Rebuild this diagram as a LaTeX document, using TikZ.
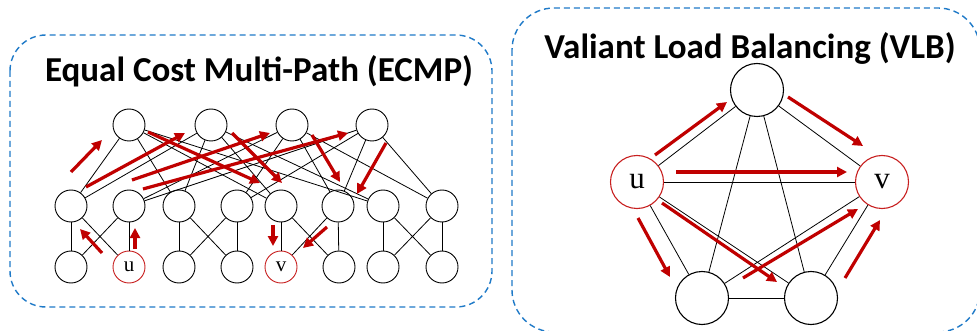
\documentclass[tikz,border=0pt]{standalone}
\usepackage{fontspec}
\newfontfamily\titlefont{Carlito}
\newfontfamily\lblfont{Liberation Serif}
\usetikzlibrary{arrows.meta}
\definecolor{darkred}{HTML}{C00000}
\definecolor{nodered}{HTML}{C82020}
\definecolor{boxblue}{HTML}{1F7AC8}
\begin{document}
\begin{tikzpicture}[x=1pt,y=-1pt,
  sw/.style={circle,draw=black,line width=0.9pt,minimum size=32pt,inner sep=0pt,fill=white},
  swbig/.style={circle,draw=black,line width=1.1pt,minimum size=53pt,inner sep=0pt,fill=white},
  hostred/.style={draw=nodered},
  link/.style={line width=0.8pt,black},
  redarr/.style={line width=3.2pt,darkred,-{Triangle[length=10pt,width=10pt]}},
  dbox/.style={draw=boxblue,line width=1.4pt,dash pattern=on 6pt off 4pt,rounded corners=36pt},
  ttl/.style={font=\titlefont\bfseries\fontsize{35}{40}\selectfont,anchor=base}
]
\useasboundingbox (0,0) rectangle (977,331);
\clip (0,0) rectangle (977,331);
\fill[white] (0,0) rectangle (977,331);

% boxes
\draw[dbox] (10,35) rectangle (492,307);
\draw[dbox,rounded corners=42pt] (512,8) rectangle (980,332);

% titles
\node[ttl] (t1) at (259,82) {Equal Cost Multi-Path (ECMP)};
\node[ttl] (t2) at (750,59) {Valiant Load Balancing (VLB)};

% ECMP nodes
\foreach \i/\x in {1/71,2/129,3/179,4/237,5/281,6/338,7/383,8/442}{
  \node[sw] (a\i) at (\x,206) {};
}
\foreach \i/\x in {1/71,3/179,4/237,6/339,7/383,8/442}{
  \node[sw] (e\i) at (\x,267) {};
}
\node[sw,hostred,font=\lblfont\fontsize{21}{22}\selectfont] (e2) at (129,267) {u};
\node[sw,hostred,font=\lblfont\fontsize{21}{22}\selectfont] (e5) at (281,267) {v};
\foreach \i/\x in {1/129,2/211,3/292,4/372}{
  \node[sw] (c\i) at (\x,125) {};
}

% ECMP links
\foreach \p/\q in {1/2,3/4,5/6,7/8}{
  \draw[link] (e\p) -- (a\p);
  \draw[link] (e\q) -- (a\q);
  \draw[link] (e\p) -- (a\q);
  \draw[link] (e\q) -- (a\p);
}
\foreach \p/\q in {1/2,3/4,5/6,7/8}{
  \draw[link] (a\p) -- (c1);
  \draw[link] (a\p) -- (c2);
  \draw[link] (a\q) -- (c3);
  \draw[link] (a\q) -- (c4);
}

% ECMP red arrows
\draw[redarr] (71,172) -- (102,140);
\draw[redarr] (86,187) -- (185,133);
\draw[redarr] (132,180) -- (270,133);
\draw[redarr] (143,189) -- (348,133);
\draw[redarr] (148,132) -- (260,183);
\draw[redarr] (232,133) -- (282,183);
\draw[redarr] (312,135) -- (340,182);
\draw[redarr] (386,143) -- (357,194);
\draw[redarr] (273,225) -- (273,246);
\draw[redarr] (327,227) -- (303,248);
\draw[redarr] (102,253) -- (80,229);
\draw[redarr] (135,249) -- (135,228);

% VLB nodes
\node[swbig] (vt) at (757,90) {};
\node[swbig,draw=nodered,font=\lblfont\fontsize{31}{32}\selectfont] (vu) at (637,182) {u};
\node[swbig,draw=nodered,font=\lblfont\fontsize{31}{32}\selectfont] (vv) at (882,182) {v};
\node[swbig] (vl) at (702,298) {};
\node[swbig] (vr) at (811,298) {};

% VLB links
\draw[link] (vt) -- (vu);
\draw[link] (vt) -- (vv);
\draw[link] (vt) -- (vl);
\draw[link] (vt) -- (vr);
\draw[link] (vu) -- (vv);
\draw[link] (vu) -- (vl);
\draw[link] (vu) -- (vr);
\draw[link] (vv) -- (vl);
\draw[link] (vv) -- (vr);
\draw[link] (vl) -- (vr);

% VLB red arrows
\draw[redarr] (655,155) -- (727,102);
\draw[redarr] (788,97) -- (863,146);
\draw[redarr] (676,172) -- (847,172);
\draw[redarr] (662,203) -- (777,282);
\draw[redarr] (638,218) -- (670,277);
\draw[redarr] (743,278) -- (858,209);
\draw[redarr] (845,278) -- (880,220);
\end{tikzpicture}
\end{document}
